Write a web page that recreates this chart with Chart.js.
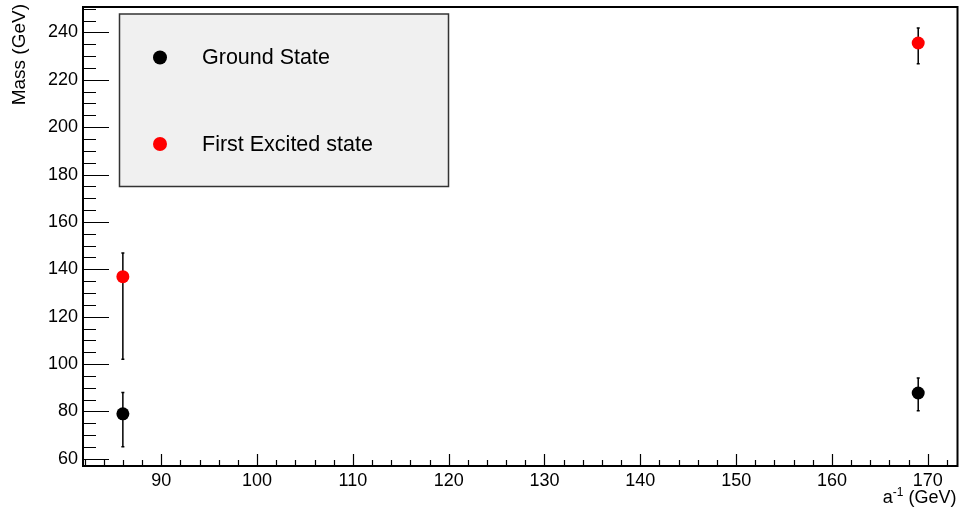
<!DOCTYPE html>
<html>
<head>
<meta charset="utf-8">
<script src="https://cdn.jsdelivr.net/npm/chart.js@4.4.0/dist/chart.umd.min.js"></script>
<style>
  html, body { margin: 0; padding: 0; background: #ffffff; }
  canvas { display: block; }
</style>
</head>
<body>
<canvas id="massChart" width="964" height="511"></canvas>
<script>
// Inverse lattice spacing a^-1 (GeV) of the two ensembles
const aInverse = [86, 169];

// Ground state masses (GeV) with asymmetric uncertainties
const groundMass = [79.0, 87.8];
const groundErrUp = [9.0, 6.3];
const groundErrDown = [13.9, 7.5];

// First excited state masses (GeV) with asymmetric uncertainties
const excitedMass = [136.9, 235.5];
const excitedErrUp = [10.0, 6.3];
const excitedErrDown = [34.8, 8.7];

// Labelled axis ticks
const xTickValues = [90, 100, 110, 120, 130, 140, 150, 160, 170];
const yTickValues = [60, 80, 100, 120, 140, 160, 180, 200, 220, 240];

// Axis ranges
const xRange = [81.84, 173.1];
const yRange = [57.0, 250.7];

const FONT = '"Liberation Sans", Arial, Helvetica, sans-serif';

function toPoints(xs, ys) {
  return xs.map((x, i) => ({ x: x, y: ys[i] }));
}

// White page background
const backgroundPlugin = {
  id: 'background',
  beforeDraw(chart) {
    const ctx = chart.ctx;
    ctx.save();
    ctx.fillStyle = '#ffffff';
    ctx.fillRect(0, 0, chart.width, chart.height);
    ctx.restore();
  }
};

// Frame with inward-pointing major and minor tick marks
const framePlugin = {
  id: 'frame',
  afterDatasetsDraw(chart) {
    const { ctx, chartArea: a, scales } = chart;
    const xs = scales.x, ys = scales.y;
    ctx.save();
    ctx.strokeStyle = '#000000';

    ctx.lineWidth = 1.2;
    ctx.beginPath();
    // x axis ticks every 2 GeV, major every 10
    for (let v = Math.ceil(xRange[0] / 2) * 2; v <= xRange[1]; v += 2) {
      const px = Math.round(xs.getPixelForValue(v)) + 0.5;
      const len = (v % 10 === 0) ? 12 : 6;
      ctx.moveTo(px, a.bottom);
      ctx.lineTo(px, a.bottom - len);
    }
    // y axis ticks every 5 GeV, major every 20
    for (let v = Math.ceil(yRange[0] / 5) * 5; v <= yRange[1]; v += 5) {
      const py = Math.round(ys.getPixelForValue(v)) + 0.5;
      const len = (v % 20 === 0) ? 26 : 13;
      ctx.moveTo(a.left, py);
      ctx.lineTo(a.left + len, py);
    }
    ctx.stroke();

    ctx.lineWidth = 2;
    ctx.strokeRect(a.left, a.top, a.right - a.left, a.bottom - a.top);
    ctx.restore();
  }
};

// Vertical error bars with small end caps, drawn beneath the markers
const errorBarPlugin = {
  id: 'errorBars',
  beforeDatasetsDraw(chart) {
    const { ctx, scales } = chart;
    const xs = scales.x, ys = scales.y;
    ctx.save();
    ctx.strokeStyle = '#000000';
    ctx.lineWidth = 1.5;
    chart.data.datasets.forEach(ds => {
      ds.data.forEach((p, i) => {
        const px = xs.getPixelForValue(p.x);
        const top = ys.getPixelForValue(p.y + ds.errUp[i]);
        const bot = ys.getPixelForValue(p.y - ds.errDown[i]);
        ctx.beginPath();
        ctx.moveTo(px, top);
        ctx.lineTo(px, bot);
        ctx.moveTo(px - 1.5, top);
        ctx.lineTo(px + 1.5, top);
        ctx.moveTo(px - 1.5, bot);
        ctx.lineTo(px + 1.5, bot);
        ctx.stroke();
      });
    });
    ctx.restore();
  }
};

// Axis titles, aligned to the far end of each axis
const axisTitlePlugin = {
  id: 'axisTitles',
  afterDraw(chart) {
    const ctx = chart.ctx;
    const a = chart.chartArea;
    ctx.save();
    ctx.fillStyle = '#000000';

    // y title, rotated
    ctx.save();
    ctx.translate(20, a.top - 3);
    ctx.rotate(-Math.PI / 2);
    ctx.font = '19px ' + FONT;
    ctx.textAlign = 'right';
    ctx.textBaseline = 'middle';
    ctx.fillText('Mass (GeV)', 0, 0);
    ctx.restore();

    // x title with superscript
    const right = a.right - 1;
    const base = 503;
    ctx.textBaseline = 'alphabetic';
    ctx.textAlign = 'left';
    ctx.font = '18px ' + FONT;
    const tail = ' (GeV)';
    const wTail = ctx.measureText(tail).width;
    const wA = ctx.measureText('a').width;
    ctx.font = '12px ' + FONT;
    const sup = '-1';
    const wSup = ctx.measureText(sup).width;
    let x0 = right - wTail - wSup - wA;
    ctx.font = '18px ' + FONT;
    ctx.fillText('a', x0, base);
    ctx.font = '12px ' + FONT;
    ctx.fillText(sup, x0 + wA, base - 7);
    ctx.font = '18px ' + FONT;
    ctx.fillText(tail, x0 + wA + wSup, base);
    ctx.restore();
  }
};

// Boxed legend inside the plot frame
const legendBoxPlugin = {
  id: 'legendBox',
  afterDraw(chart) {
    const ctx = chart.ctx;
    const box = { x: 119.5, y: 14, w: 329, h: 172.5 };
    ctx.save();
    ctx.fillStyle = '#f0f0f0';
    ctx.fillRect(box.x, box.y, box.w, box.h);
    ctx.strokeStyle = '#333333';
    ctx.lineWidth = 1.5;
    ctx.strokeRect(box.x, box.y, box.w, box.h);

    const rows = [57.5, 144];
    ctx.font = '21.5px ' + FONT;
    ctx.textBaseline = 'middle';
    ctx.textAlign = 'left';
    chart.data.datasets.forEach((ds, i) => {
      ctx.fillStyle = ds.backgroundColor;
      ctx.beginPath();
      ctx.arc(160, rows[i], 7, 0, Math.PI * 2);
      ctx.fill();
      ctx.fillStyle = '#000000';
      ctx.fillText(ds.label, 202, rows[i] + 1);
    });
    ctx.restore();
  }
};

new Chart(document.getElementById('massChart'), {
  type: 'scatter',
  data: {
    datasets: [
      {
        label: 'Ground State',
        data: toPoints(aInverse, groundMass),
        errUp: groundErrUp,
        errDown: groundErrDown,
        backgroundColor: '#000000',
        borderWidth: 0,
        pointRadius: 6.5,
        pointHoverRadius: 6.5
      },
      {
        label: 'First Excited state',
        data: toPoints(aInverse, excitedMass),
        errUp: excitedErrUp,
        errDown: excitedErrDown,
        backgroundColor: '#ff0000',
        borderWidth: 0,
        pointRadius: 6.5,
        pointHoverRadius: 6.5
      }
    ]
  },
  options: {
    responsive: false,
    devicePixelRatio: 1,
    animation: false,
    events: [],
    layout: { padding: { left: 0, top: 7, right: 5, bottom: 0 } },
    plugins: {
      legend: { display: false },
      tooltip: { enabled: false }
    },
    scales: {
      x: {
        type: 'linear',
        min: xRange[0],
        max: xRange[1],
        grid: { display: false, drawTicks: false },
        border: { display: false },
        afterBuildTicks(scale) { scale.ticks = xTickValues.map(v => ({ value: v })); },
        afterFit(scale) {
          scale.height = 45;
          scale.paddingLeft = 0;
          scale.paddingRight = 0;
        },
        ticks: {
          autoSkip: false,
          maxRotation: 0,
          padding: 4,
          color: '#000000',
          font: { family: FONT, size: 18 },
          callback: v => String(v)
        }
      },
      y: {
        type: 'linear',
        min: yRange[0],
        max: yRange[1],
        grid: { display: false, drawTicks: false },
        border: { display: false },
        afterBuildTicks(scale) { scale.ticks = yTickValues.map(v => ({ value: v })); },
        afterFit(scale) {
          scale.width = 83;
          scale.paddingTop = 0;
          scale.paddingBottom = 0;
        },
        ticks: {
          autoSkip: false,
          padding: 5,
          color: '#000000',
          font: { family: FONT, size: 18 },
          callback: v => String(v)
        }
      }
    }
  },
  plugins: [backgroundPlugin, errorBarPlugin, framePlugin, axisTitlePlugin, legendBoxPlugin]
});
</script>
</body>
</html>
